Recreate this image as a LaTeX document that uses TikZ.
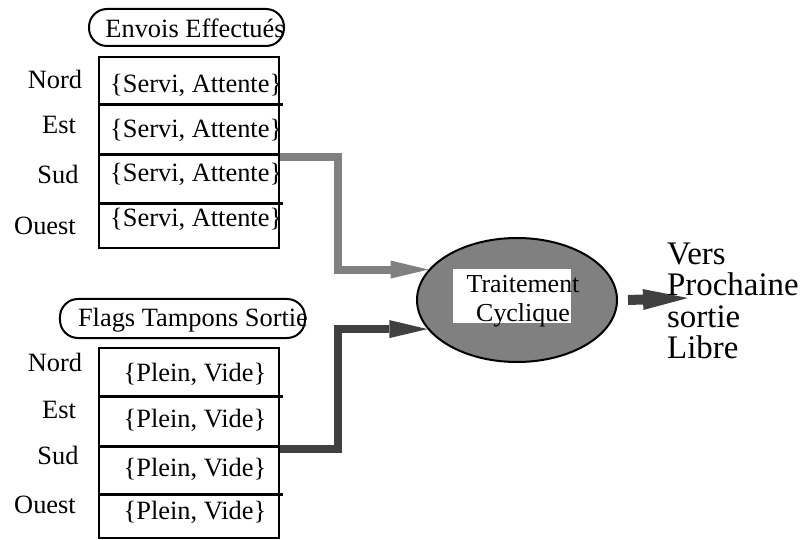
\documentclass[tikz,border=0pt]{standalone}
\usepackage{fontspec}
\setmainfont{Liberation Serif}
\usetikzlibrary{arrows.meta,shapes.geometric}
\definecolor{gris}{HTML}{808080}
\definecolor{sombre}{HTML}{404040}

\begin{document}
\begin{tikzpicture}[x=1bp,y=-1bp,
  every node/.style={font=\fontsize{26.5}{30}\selectfont, inner sep=0pt},
  titre/.style={draw, line width=2bp, rounded corners=18bp},
  cadre/.style={draw, line width=2bp, minimum width=180bp},
  ligne/.style={line width=3bp},
  fleche/.style={line width=8bp, -{Triangle[length=38bp,width=18bp,line width=0pt]}}]
  \useasboundingbox (0,0) rectangle (800,540);
  % envois effectues
  \node[titre, minimum width=195bp, minimum height=37bp] (envbox) at (186.5,27.5) {};
  \node (envtitre) at (195,28) {Envois Effectués};
  \node[cadre, minimum height=191bp] (envtab) at (189,152.5) {};
  \foreach \y in {105,155,204}
    \draw[ligne] (98,\y) -- (283,\y);
  \node (envnord) at (55,79) {Nord};
  \node (envest) at (59,125) {Est};
  \node (envsud) at (58,174) {Sud};
  \node (envouest) at (45,226) {Ouest};
  \begin{scope}
    \clip (100,58) rectangle (281,247);
    \node[anchor=west] (servn) at (110,85) {\{Servi, Attente\}};
    \node[anchor=west] (serve) at (110,130) {\{Servi, Attente\}};
    \node[anchor=west] (servs) at (110,174) {\{Servi, Attente\}};
    \node[anchor=west] (servo) at (110,219) {\{Servi, Attente\}};
  \end{scope}
  \coordinate (envout) at (280,157);

  % flags tampons sortie
  \node[titre, minimum width=245bp, minimum height=39bp] (flagbox) at (182.5,318.5) {};
  \node (flagtitre) at (193,320) {Flags Tampons Sortie};
  \node[cadre, minimum height=190bp] (flagtab) at (189,443) {};
  \foreach \y in {396,446,494}
    \draw[ligne] (98,\y) -- (283,\y);
  \node (flagnord) at (55,362) {Nord};
  \node (flagest) at (59,410) {Est};
  \node (flagsud) at (58,455) {Sud};
  \node (flagouest) at (45,505) {Ouest};
  \node (pleinn) at (195,374) {\{Plein, Vide\}};
  \node (pleine) at (195,420) {\{Plein, Vide\}};
  \node (pleins) at (195,469) {\{Plein, Vide\}};
  \node (pleino) at (195,512) {\{Plein, Vide\}};
  \coordinate (flagout) at (280,449);

  % traitement
  \node[draw, ellipse, fill=gris, line width=2bp, minimum width=200bp, minimum height=124bp] (trait) at (517,300) {};
  \node[fill=white, minimum width=118bp, minimum height=54bp] (fond) at (512,296) {};
  \node[align=center, font=\fontsize{26}{29}\selectfont] (texte) at (523,301) {Traitement\\Cyclique};

  \draw[fleche, draw=gris] (envout) -- (337.5,157) |- (trait.161);
  \draw[fleche, draw=sombre] (flagout) -- (337.5,449) |- (trait.198);

  \coordinate (sortie) at (688,298);
  \draw[draw=sombre, line width=10bp, -{Triangle[length=45bp,width=21bp,line width=0pt]}] (trait.east) ++(10,0) -- (sortie);
  \node[anchor=west, align=left, font=\fontsize{33}{31.5}\selectfont] (vers) at (667,301) {Vers\\Prochaine\\sortie\\Libre};
\end{tikzpicture}
\end{document}
